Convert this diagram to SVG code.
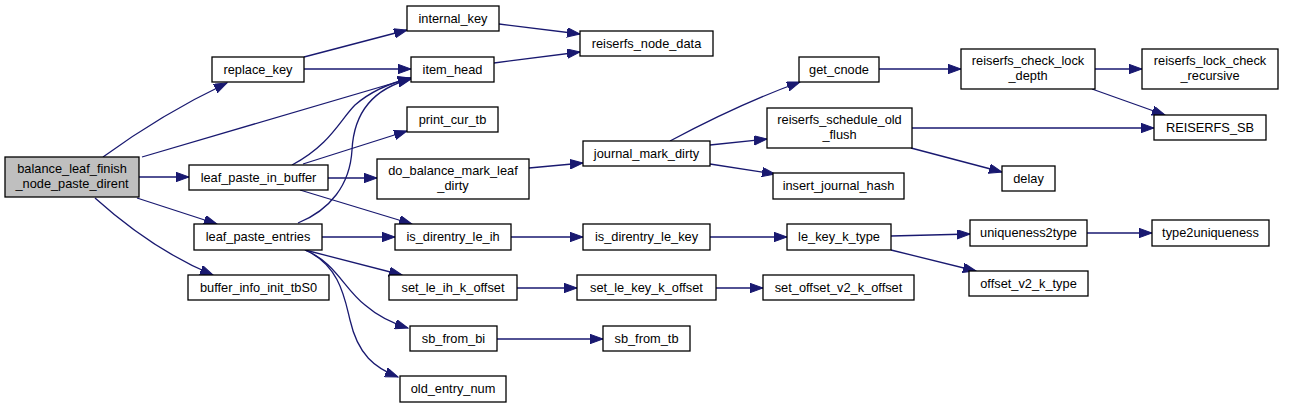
<svg xmlns="http://www.w3.org/2000/svg" width="1297" height="408" viewBox="0 0 1297 408">
<style>
.n rect{fill:#ffffff;stroke:#000000;stroke-width:1.3}
.n text{font-family:"Liberation Sans",Arial,sans-serif;font-size:12.8px;text-anchor:middle;fill:#000000}
#n0 rect{fill:#bfbfbf}
#edges path{fill:none;stroke:#191970;stroke-width:1.3;marker-end:url(#arr)}
</style>
<defs>
<marker id="arr" markerUnits="userSpaceOnUse" markerWidth="14" markerHeight="10" refX="13" refY="4.7" orient="auto">
<path d="M0,0 L13,4.7 L0,9.4 z" fill="#191970" stroke="#191970" stroke-width="1"/>
</marker>
</defs>
<rect width="1297" height="408" fill="#ffffff"/>
<g id="edges">
<path d="M103,157 C140,130 185,103 227,83"/>
<path d="M142,157 L411,78"/>
<path d="M139,177 L189,177"/>
<path d="M137,198 L217,224"/>
<path d="M95,198 C125,225 165,255 213,275"/>
<path d="M304,57 L407,30"/>
<path d="M304,69 L411,69"/>
<path d="M292,165 C330,145 340,120 355,105 C370,92 390,83 411,78"/>
<path d="M303,164 L407,131"/>
<path d="M328,178 L377,178"/>
<path d="M300,190 L412,224"/>
<path d="M298,223 C330,210 350,185 352,150 C354,110 375,88 411,79"/>
<path d="M322,237 L395,237"/>
<path d="M305,250 L402,275"/>
<path d="M305,250 C335,262 345,290 365,305 C380,318 395,324 408,328"/>
<path d="M305,250 C340,265 345,300 350,320 C358,355 375,368 398,377"/>
<path d="M499,24 L580,34"/>
<path d="M494,63 L580,52"/>
<path d="M529,168 L583,163"/>
<path d="M670,141 C700,125 750,100 800,82"/>
<path d="M710,145 L767,139"/>
<path d="M710,164 L775,174"/>
<path d="M879,69 L961,69"/>
<path d="M1095,69 L1142,69"/>
<path d="M1092,89 L1165,115"/>
<path d="M912,128 L1154,128"/>
<path d="M911,148 L1002,172"/>
<path d="M511,237 L583,237"/>
<path d="M710,237 L787,237"/>
<path d="M891,236 L970,234"/>
<path d="M891,250 L976,271"/>
<path d="M1087,233 L1152,233"/>
<path d="M517,288 L577,288"/>
<path d="M716,288 L763,288"/>
<path d="M497,339 L603,339"/>
</g>
<g id="n0" class="n"><rect x="5" y="157" width="134" height="40"/><text x="72" y="173">balance_leaf_finish</text><text x="72" y="188">_node_paste_dirent</text></g>
<g id="n1" class="n"><rect x="212" y="57" width="92" height="25"/><text x="258" y="74">replace_key</text></g>
<g id="n2" class="n"><rect x="189" y="165" width="139" height="25"/><text x="258.5" y="182">leaf_paste_in_buffer</text></g>
<g id="n3" class="n"><rect x="194" y="224" width="128" height="26"/><text x="258" y="241">leaf_paste_entries</text></g>
<g id="n4" class="n"><rect x="188" y="275" width="141" height="25"/><text x="258.5" y="292">buffer_info_init_tbS0</text></g>
<g id="n5" class="n"><rect x="407" y="6" width="92" height="25"/><text x="453" y="23">internal_key</text></g>
<g id="n6" class="n"><rect x="580" y="31" width="133" height="25"/><text x="646.5" y="48">reiserfs_node_data</text></g>
<g id="n7" class="n"><rect x="411" y="57" width="83" height="25"/><text x="452.5" y="74">item_head</text></g>
<g id="n8" class="n"><rect x="407" y="107" width="91" height="25"/><text x="452.5" y="124">print_cur_tb</text></g>
<g id="n9" class="n"><rect x="377" y="159" width="152" height="40"/><text x="453" y="175">do_balance_mark_leaf</text><text x="453" y="190">_dirty</text></g>
<g id="n10" class="n"><rect x="395" y="224" width="116" height="26"/><text x="453" y="241">is_direntry_le_ih</text></g>
<g id="n11" class="n"><rect x="389" y="275" width="128" height="25"/><text x="453" y="292">set_le_ih_k_offset</text></g>
<g id="n12" class="n"><rect x="410" y="326" width="87" height="25"/><text x="453.5" y="343">sb_from_bi</text></g>
<g id="n13" class="n"><rect x="400" y="376" width="106" height="26"/><text x="453" y="393">old_entry_num</text></g>
<g id="n14" class="n"><rect x="583" y="141" width="127" height="25"/><text x="646.5" y="158">journal_mark_dirty</text></g>
<g id="n15" class="n"><rect x="799" y="57" width="80" height="25"/><text x="839" y="74">get_cnode</text></g>
<g id="n16" class="n"><rect x="767" y="108" width="145" height="40"/><text x="839.5" y="124">reiserfs_schedule_old</text><text x="839.5" y="139">_flush</text></g>
<g id="n17" class="n"><rect x="773" y="173" width="131" height="26"/><text x="838.5" y="190">insert_journal_hash</text></g>
<g id="n18" class="n"><rect x="961" y="49" width="134" height="40"/><text x="1028" y="65">reiserfs_check_lock</text><text x="1028" y="80">_depth</text></g>
<g id="n19" class="n"><rect x="1142" y="49" width="136" height="40"/><text x="1210" y="65">reiserfs_lock_check</text><text x="1210" y="80">_recursive</text></g>
<g id="n20" class="n"><rect x="1154" y="115" width="112" height="25"/><text x="1210" y="132">REISERFS_SB</text></g>
<g id="n21" class="n"><rect x="1002" y="166" width="53" height="25"/><text x="1028.5" y="183">delay</text></g>
<g id="n22" class="n"><rect x="583" y="224" width="127" height="26"/><text x="646.5" y="241">is_direntry_le_key</text></g>
<g id="n23" class="n"><rect x="577" y="275" width="139" height="25"/><text x="646.5" y="292">set_le_key_k_offset</text></g>
<g id="n24" class="n"><rect x="603" y="326" width="87" height="25"/><text x="646.5" y="343">sb_from_tb</text></g>
<g id="n25" class="n"><rect x="787" y="224" width="104" height="26"/><text x="839" y="241">le_key_k_type</text></g>
<g id="n26" class="n"><rect x="763" y="275" width="151" height="25"/><text x="838.5" y="292">set_offset_v2_k_offset</text></g>
<g id="n27" class="n"><rect x="970" y="220" width="117" height="26"/><text x="1028.5" y="237">uniqueness2type</text></g>
<g id="n28" class="n"><rect x="969" y="271" width="119" height="25"/><text x="1028.5" y="288">offset_v2_k_type</text></g>
<g id="n29" class="n"><rect x="1152" y="220" width="117" height="26"/><text x="1210.5" y="237">type2uniqueness</text></g>
</svg>
